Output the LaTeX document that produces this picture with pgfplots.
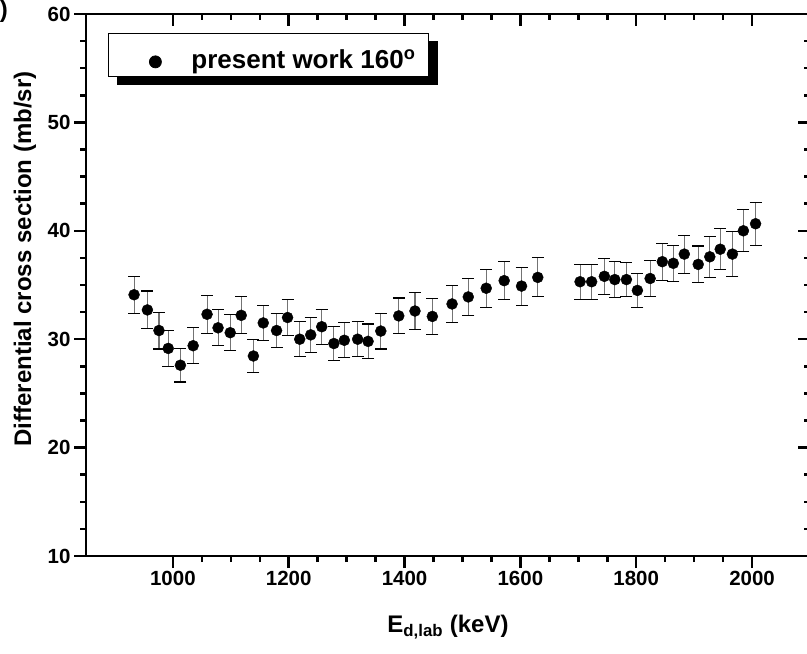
\documentclass[border=0pt]{standalone}
\usepackage{fontspec}
\setmainfont{Liberation Sans}
\usepackage{pgfplots}
\usepackage{pgfplotstable}
\pgfplotsset{compat=1.18}
\usetikzlibrary{backgrounds}

\pgfplotstableread{
x y e
933 34.1 1.70
956 32.7 1.75
976 30.8 1.70
992 29.15 1.65
1013 27.6 1.55
1035 29.4 1.65
1059 32.3 1.75
1078 31.05 1.65
1099 30.6 1.65
1118 32.2 1.70
1139 28.45 1.55
1156 31.5 1.65
1179 30.8 1.60
1198 32.0 1.65
1219 30.0 1.60
1238 30.4 1.60
1257 31.15 1.60
1278 29.6 1.55
1296 29.9 1.60
1319 30.0 1.60
1337 29.8 1.60
1359 30.75 1.65
1390 32.15 1.65
1418 32.6 1.70
1448 32.1 1.65
1482 33.25 1.70
1510 33.9 1.70
1541 34.7 1.75
1572 35.4 1.75
1602 34.9 1.75
1630 35.7 1.80
1703 35.3 1.60
1723 35.3 1.60
1745 35.8 1.65
1763 35.5 1.65
1783 35.5 1.60
1802 34.5 1.55
1824 35.6 1.65
1845 37.15 1.70
1864 37.0 1.65
1883 37.85 1.75
1907 36.9 1.70
1927 37.6 1.90
1945 38.3 1.90
1966 37.85 2.05
1985 40.0 1.95
2006 40.65 2.00
}\data

\pgfplotsset{
  common/.style={
    at={(86pt,98pt)}, anchor=south west,
    width=724pt, height=542pt, scale only axis,
    xmin=850, xmax=2100, ymin=10, ymax=60,
    xtick={1000,1200,...,2000}, minor x tick num=3,
    ytick={10,20,...,60}, minor y tick num=3,
    major tick length=12pt, minor tick length=6pt,
    every major tick/.append style={line width=2.5pt, black},
    every minor tick/.append style={line width=2.5pt, black},
  }
}

\begin{document}
\begin{tikzpicture}[x=1pt,y=1pt]
\useasboundingbox (0,0) rectangle (807,654);
\clip (0,0) rectangle (807,654);
\node[anchor=east,font=\fontsize{24}{28}\selectfont\bfseries,inner sep=0pt] at (8,643) {(b)};
\begin{axis}[
  common,
  axis line style={line width=2.8pt, line cap=rect},
  tick align=outside,
  xtick pos=bottom, ytick pos=left,
  /pgf/number format/assume math mode=true,
  /pgf/number format/set thousands separator={},
  tick label style={font=\fontsize{20.5}{24}\selectfont\bfseries},
  xlabel={E\textsubscript{d,lab} (keV)},
  ylabel={Differential cross section (mb/sr)},
  label style={font=\fontsize{24}{28}\selectfont\bfseries},
  xlabel style={at={(axis description cs:0.5,-0.142)}, anchor=base},
  ylabel style={at={(axis description cs:-0.0843,0.548)}, anchor=center},
  legend style={
    name=leg,
    at={(axis description cs:0.0304,0.965)}, anchor=north west,
    draw=black, line width=0.8pt, fill=white,
    inner xsep=11pt, inner ysep=4pt, column sep=12pt,
    font=\fontsize{26}{30}\selectfont\bfseries,
    nodes={inner sep=2pt, text height=29pt, text depth=2pt},
  },
]
\addlegendimage{legend image code/.code={%
    \path[draw=none] (-36pt,0pt) -- (22pt,0pt);
    \fill[black] (0pt,-7pt) circle (6pt);}}
\addlegendentry{present work 160\textsuperscript{o}}
\addplot[only marks, mark=*, mark size=5.5pt, black, forget plot,
  error bars/.cd, y dir=both, y explicit,
  error bar style={black!55, line width=1.1pt},
  error mark options={rotate=90, mark size=6pt, line width=1.1pt, black}]
  table[x=x, y=y, y error=e] {\data};
\end{axis}
\begin{pgfonlayer}{background}
  \fill[black] ([xshift=9pt,yshift=-8pt]leg.south west) rectangle ([xshift=9pt,yshift=-8pt]leg.north east);
\end{pgfonlayer}
\begin{axis}[
  common,
  axis line style={draw=none},
  tick align=inside,
  xtick pos=top, ytick pos=right,
  xticklabels={}, yticklabels={},
]
\end{axis}
\end{tikzpicture}
\end{document}
